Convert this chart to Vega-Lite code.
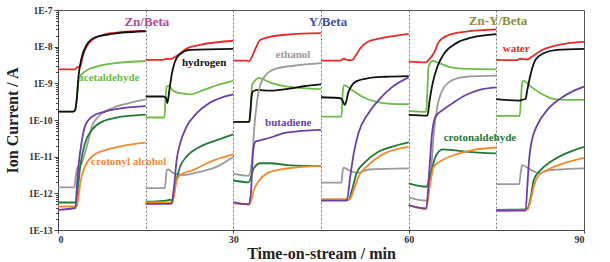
{
"$schema": "https://vega.github.io/schema/vega-lite/v6.json",
"width": 526, "height": 220,
"autosize": {"type": "none"},
"padding": {"left": 58, "top": 10, "right": 26, "bottom": 32},
"background": "white",
"config": {"view": {"stroke": "#555", "strokeWidth": 1}, "font": "Liberation Serif"},
"datasets": {
"curves": [
{"s":"water","g":1,"t":0,"v":2.4e-9},{"s":"water","g":1,"t":2.9,"v":2.4e-9},{"s":"water","g":1,"t":3.3,"v":2.75e-9},{"s":"water","g":1,"t":3.8,"v":2.82e-9},{"s":"water","g":1,"t":4.1,"v":4.47e-9},{"s":"water","g":1,"t":4.6,"v":8.13e-9},{"s":"water","g":1,"t":5.8,"v":1.51e-8},{"s":"water","g":1,"t":8.1,"v":2.19e-8},{"s":"water","g":1,"t":10.9,"v":2.51e-8},{"s":"water","g":1,"t":15,"v":2.69e-8},
{"s":"acetaldehyde","g":1,"t":0,"v":1.7e-10},{"s":"acetaldehyde","g":1,"t":2.6,"v":1.7e-10},{"s":"acetaldehyde","g":1,"t":2.9,"v":1.82e-10},{"s":"acetaldehyde","g":1,"t":3.2,"v":3.55e-10},{"s":"acetaldehyde","g":1,"t":3.6,"v":1.38e-9},{"s":"acetaldehyde","g":1,"t":4.6,"v":2.09e-9},{"s":"acetaldehyde","g":1,"t":6.9,"v":2.95e-9},{"s":"acetaldehyde","g":1,"t":9.8,"v":3.55e-9},{"s":"acetaldehyde","g":1,"t":15,"v":4.07e-9},
{"s":"hydrogen","g":1,"t":0,"v":1.7e-10},{"s":"hydrogen","g":1,"t":2.6,"v":1.7e-10},{"s":"hydrogen","g":1,"t":2.9,"v":1.82e-10},{"s":"hydrogen","g":1,"t":3.2,"v":3.55e-10},{"s":"hydrogen","g":1,"t":3.5,"v":1.51e-9},{"s":"hydrogen","g":1,"t":4.1,"v":5.37e-9},{"s":"hydrogen","g":1,"t":4.9,"v":1.12e-8},{"s":"hydrogen","g":1,"t":6.3,"v":1.78e-8},{"s":"hydrogen","g":1,"t":8.6,"v":2.14e-8},{"s":"hydrogen","g":1,"t":11,"v":2.4e-8},{"s":"hydrogen","g":1,"t":15,"v":2.63e-8},
{"s":"ethanol","g":1,"t":0,"v":1.45e-12},{"s":"ethanol","g":1,"t":2.8,"v":1.45e-12},{"s":"ethanol","g":1,"t":3.0,"v":2.51e-12},{"s":"ethanol","g":1,"t":3.3,"v":5.01e-12},{"s":"ethanol","g":1,"t":3.8,"v":5.62e-12},{"s":"ethanol","g":1,"t":4.6,"v":1.23e-11},{"s":"ethanol","g":1,"t":5.2,"v":2.82e-11},{"s":"ethanol","g":1,"t":5.8,"v":6.61e-11},{"s":"ethanol","g":1,"t":6.9,"v":1.23e-10},{"s":"ethanol","g":1,"t":9.2,"v":2.09e-10},{"s":"ethanol","g":1,"t":12.1,"v":2.88e-10},{"s":"ethanol","g":1,"t":15,"v":3.63e-10},
{"s":"crotonaldehyde","g":1,"t":0,"v":5.62e-13},{"s":"crotonaldehyde","g":1,"t":3.0,"v":5.62e-13},{"s":"crotonaldehyde","g":1,"t":3.3,"v":1e-12},{"s":"crotonaldehyde","g":1,"t":3.8,"v":5.37e-12},{"s":"crotonaldehyde","g":1,"t":4.6,"v":2.29e-11},{"s":"crotonaldehyde","g":1,"t":5.8,"v":5.37e-11},{"s":"crotonaldehyde","g":1,"t":7.5,"v":8.91e-11},{"s":"crotonaldehyde","g":1,"t":10.9,"v":1.23e-10},{"s":"crotonaldehyde","g":1,"t":15,"v":1.41e-10},
{"s":"crotonyl alcohol","g":1,"t":0,"v":4.37e-13},{"s":"crotonyl alcohol","g":1,"t":3.2,"v":4.37e-13},{"s":"crotonyl alcohol","g":1,"t":3.5,"v":7.94e-13},{"s":"crotonyl alcohol","g":1,"t":3.8,"v":1.86e-12},{"s":"crotonyl alcohol","g":1,"t":4.6,"v":5.37e-12},{"s":"crotonyl alcohol","g":1,"t":5.8,"v":1e-11},{"s":"crotonyl alcohol","g":1,"t":8.1,"v":1.51e-11},{"s":"crotonyl alcohol","g":1,"t":10.9,"v":1.95e-11},{"s":"crotonyl alcohol","g":1,"t":15,"v":2.4e-11},
{"s":"butadiene","g":1,"t":0,"v":3.55e-13},{"s":"butadiene","g":1,"t":3.0,"v":3.98e-13},{"s":"butadiene","g":1,"t":3.2,"v":1.26e-12},{"s":"butadiene","g":1,"t":3.5,"v":5.37e-12},{"s":"butadiene","g":1,"t":4.1,"v":2.82e-11},{"s":"butadiene","g":1,"t":4.6,"v":6.61e-11},{"s":"butadiene","g":1,"t":5.8,"v":1.23e-10},{"s":"butadiene","g":1,"t":8.1,"v":1.7e-10},{"s":"butadiene","g":1,"t":10.9,"v":2.09e-10},{"s":"butadiene","g":1,"t":15,"v":2.4e-10},

{"s":"water","g":2,"t":15,"v":4.37e-9},{"s":"water","g":2,"t":18,"v":4.37e-9},{"s":"water","g":2,"t":18.6,"v":4.68e-9},{"s":"water","g":2,"t":19.2,"v":4.57e-9},{"s":"water","g":2,"t":20.3,"v":5.62e-9},{"s":"water","g":2,"t":22,"v":8.91e-9},{"s":"water","g":2,"t":24.3,"v":1.12e-8},{"s":"water","g":2,"t":27.2,"v":1.32e-8},{"s":"water","g":2,"t":30,"v":1.45e-8},
{"s":"acetaldehyde","g":2,"t":15,"v":1.17e-10},{"s":"acetaldehyde","g":2,"t":18.2,"v":1.17e-10},{"s":"acetaldehyde","g":2,"t":18.4,"v":3.98e-10},{"s":"acetaldehyde","g":2,"t":18.6,"v":8.13e-10},{"s":"acetaldehyde","g":2,"t":18.9,"v":8.51e-10},{"s":"acetaldehyde","g":2,"t":19.7,"v":6.31e-10},{"s":"acetaldehyde","g":2,"t":20.9,"v":5.37e-10},{"s":"acetaldehyde","g":2,"t":22.6,"v":5.01e-10},{"s":"acetaldehyde","g":2,"t":24.9,"v":6.61e-10},{"s":"acetaldehyde","g":2,"t":27.7,"v":9.33e-10},{"s":"acetaldehyde","g":2,"t":30,"v":1.17e-9},
{"s":"hydrogen","g":2,"t":15,"v":4.37e-10},{"s":"hydrogen","g":2,"t":18,"v":4.37e-10},{"s":"hydrogen","g":2,"t":18.5,"v":3.98e-10},{"s":"hydrogen","g":2,"t":18.7,"v":2.88e-10},{"s":"hydrogen","g":2,"t":19.06,"v":6.61e-10},{"s":"hydrogen","g":2,"t":19.5,"v":1.86e-9},{"s":"hydrogen","g":2,"t":20,"v":3.89e-9},{"s":"hydrogen","g":2,"t":20.9,"v":6.31e-9},{"s":"hydrogen","g":2,"t":22.6,"v":8.13e-9},{"s":"hydrogen","g":2,"t":30,"v":8.71e-9},
{"s":"ethanol","g":2,"t":15,"v":1.38e-12},{"s":"ethanol","g":2,"t":18.3,"v":1.38e-12},{"s":"ethanol","g":2,"t":18.6,"v":4.37e-12},{"s":"ethanol","g":2,"t":18.9,"v":4.47e-12},{"s":"ethanol","g":2,"t":19.7,"v":3.55e-12},{"s":"ethanol","g":2,"t":21.5,"v":3.16e-12},{"s":"ethanol","g":2,"t":24.3,"v":3.89e-12},{"s":"ethanol","g":2,"t":27.2,"v":5.37e-12},{"s":"ethanol","g":2,"t":30,"v":1e-11},
{"s":"crotonaldehyde","g":2,"t":15,"v":5.89e-13},{"s":"crotonaldehyde","g":2,"t":18.5,"v":6.31e-13},{"s":"crotonaldehyde","g":2,"t":19.2,"v":6.76e-13},{"s":"crotonaldehyde","g":2,"t":19.5,"v":6.31e-13},{"s":"crotonaldehyde","g":2,"t":20,"v":1.51e-12},{"s":"crotonaldehyde","g":2,"t":20.9,"v":5.37e-12},{"s":"crotonaldehyde","g":2,"t":22,"v":1e-11},{"s":"crotonaldehyde","g":2,"t":24.3,"v":1.86e-11},{"s":"crotonaldehyde","g":2,"t":27.2,"v":2.82e-11},{"s":"crotonaldehyde","g":2,"t":30,"v":4.07e-11},
{"s":"crotonyl alcohol","g":2,"t":15,"v":5.62e-13},{"s":"crotonyl alcohol","g":2,"t":19.6,"v":5.62e-13},{"s":"crotonyl alcohol","g":2,"t":20.3,"v":2.29e-12},{"s":"crotonyl alcohol","g":2,"t":20.9,"v":3.16e-12},{"s":"crotonyl alcohol","g":2,"t":23.2,"v":4.37e-12},{"s":"crotonyl alcohol","g":2,"t":26,"v":7.24e-12},{"s":"crotonyl alcohol","g":2,"t":30,"v":1.15e-11},
{"s":"butadiene","g":2,"t":15,"v":5.13e-13},{"s":"butadiene","g":2,"t":19.4,"v":5.13e-13},{"s":"butadiene","g":2,"t":19.86,"v":1.51e-12},{"s":"butadiene","g":2,"t":20.3,"v":8.13e-12},{"s":"butadiene","g":2,"t":20.9,"v":2.29e-11},{"s":"butadiene","g":2,"t":22,"v":6.61e-11},{"s":"butadiene","g":2,"t":23.7,"v":1.51e-10},{"s":"butadiene","g":2,"t":26,"v":2.95e-10},{"s":"butadiene","g":2,"t":30,"v":5.01e-10},

{"s":"water","g":3,"t":30,"v":4.17e-9},{"s":"water","g":3,"t":32.3,"v":4.17e-9},{"s":"water","g":3,"t":32.6,"v":3.98e-9},{"s":"water","g":3,"t":33.2,"v":5.37e-9},{"s":"water","g":3,"t":33.8,"v":8.91e-9},{"s":"water","g":3,"t":34.6,"v":1.51e-8},{"s":"water","g":3,"t":36.3,"v":1.86e-8},{"s":"water","g":3,"t":39.2,"v":2.14e-8},{"s":"water","g":3,"t":45,"v":2.34e-8},
{"s":"acetaldehyde","g":3,"t":30,"v":8.91e-11},{"s":"acetaldehyde","g":3,"t":32.8,"v":8.91e-11},{"s":"acetaldehyde","g":3,"t":33.0,"v":2.51e-10},{"s":"acetaldehyde","g":3,"t":33.2,"v":8.91e-10},{"s":"acetaldehyde","g":3,"t":33.6,"v":1.12e-9},{"s":"acetaldehyde","g":3,"t":34.3,"v":1.41e-9},{"s":"acetaldehyde","g":3,"t":36.3,"v":1.05e-9},{"s":"acetaldehyde","g":3,"t":39.2,"v":8.13e-10},{"s":"acetaldehyde","g":3,"t":42,"v":7.41e-10},{"s":"acetaldehyde","g":3,"t":45,"v":6.92e-10},
{"s":"hydrogen","g":3,"t":30,"v":8.91e-11},{"s":"hydrogen","g":3,"t":32.7,"v":8.91e-11},{"s":"hydrogen","g":3,"t":32.9,"v":1.58e-10},{"s":"hydrogen","g":3,"t":33.1,"v":3.98e-10},{"s":"hydrogen","g":3,"t":33.3,"v":5.89e-10},{"s":"hydrogen","g":3,"t":34.1,"v":6.61e-10},{"s":"hydrogen","g":3,"t":36.3,"v":6.31e-10},{"s":"hydrogen","g":3,"t":39.8,"v":7.24e-10},{"s":"hydrogen","g":3,"t":42,"v":8.32e-10},{"s":"hydrogen","g":3,"t":45,"v":9.33e-10},
{"s":"ethanol","g":3,"t":30,"v":3.39e-12},{"s":"ethanol","g":3,"t":32.6,"v":3.02e-12},{"s":"ethanol","g":3,"t":33.2,"v":8.13e-12},{"s":"ethanol","g":3,"t":33.6,"v":6.61e-11},{"s":"ethanol","g":3,"t":34.1,"v":3.55e-10},{"s":"ethanol","g":3,"t":34.6,"v":8.91e-10},{"s":"ethanol","g":3,"t":35.8,"v":1.86e-9},{"s":"ethanol","g":3,"t":37.5,"v":2.57e-9},{"s":"ethanol","g":3,"t":40.3,"v":3.02e-9},{"s":"ethanol","g":3,"t":45,"v":3.55e-9},
{"s":"crotonaldehyde","g":3,"t":30,"v":2.24e-12},{"s":"crotonaldehyde","g":3,"t":32.6,"v":2.0e-12},{"s":"crotonaldehyde","g":3,"t":33.5,"v":4.79e-12},{"s":"crotonaldehyde","g":3,"t":34.6,"v":6.61e-12},{"s":"crotonaldehyde","g":3,"t":36.3,"v":6.61e-12},{"s":"crotonaldehyde","g":3,"t":39.2,"v":5.89e-12},{"s":"crotonaldehyde","g":3,"t":42,"v":5.62e-12},{"s":"crotonaldehyde","g":3,"t":45,"v":5.62e-12},
{"s":"crotonyl alcohol","g":3,"t":30,"v":5.37e-13},{"s":"crotonyl alcohol","g":3,"t":32.8,"v":5.01e-13},{"s":"crotonyl alcohol","g":3,"t":33.5,"v":1.23e-12},{"s":"crotonyl alcohol","g":3,"t":34.3,"v":2.09e-12},{"s":"crotonyl alcohol","g":3,"t":35.8,"v":3.55e-12},{"s":"crotonyl alcohol","g":3,"t":38.1,"v":4.47e-12},{"s":"crotonyl alcohol","g":3,"t":40.9,"v":5.13e-12},{"s":"crotonyl alcohol","g":3,"t":45,"v":5.62e-12},
{"s":"butadiene","g":3,"t":30,"v":5.75e-13},{"s":"butadiene","g":3,"t":32.6,"v":5.01e-13},{"s":"butadiene","g":3,"t":33.0,"v":1e-12},{"s":"butadiene","g":3,"t":33.4,"v":1.51e-11},{"s":"butadiene","g":3,"t":33.8,"v":2.57e-11},{"s":"butadiene","g":3,"t":35.2,"v":2.95e-11},{"s":"butadiene","g":3,"t":36.9,"v":3.55e-11},{"s":"butadiene","g":3,"t":38.6,"v":4.37e-11},{"s":"butadiene","g":3,"t":40.9,"v":4.9e-11},{"s":"butadiene","g":3,"t":45,"v":5.37e-11},

{"s":"water","g":4,"t":45,"v":4.17e-9},{"s":"water","g":4,"t":48.3,"v":4.17e-9},{"s":"water","g":4,"t":48.9,"v":4.68e-9},{"s":"water","g":4,"t":49.7,"v":4.27e-9},{"s":"water","g":4,"t":50.3,"v":4.27e-9},{"s":"water","g":4,"t":50.9,"v":5.62e-9},{"s":"water","g":4,"t":51.7,"v":8.91e-9},{"s":"water","g":4,"t":53.1,"v":1.38e-8},{"s":"water","g":4,"t":56,"v":1.78e-8},{"s":"water","g":4,"t":60,"v":2.24e-8},
{"s":"acetaldehyde","g":4,"t":45,"v":1.23e-10},{"s":"acetaldehyde","g":4,"t":48.5,"v":1.23e-10},{"s":"acetaldehyde","g":4,"t":48.7,"v":5.01e-10},{"s":"acetaldehyde","g":4,"t":48.9,"v":8.91e-10},{"s":"acetaldehyde","g":4,"t":50.3,"v":6.61e-10},{"s":"acetaldehyde","g":4,"t":52,"v":4.37e-10},{"s":"acetaldehyde","g":4,"t":54.3,"v":3.16e-10},{"s":"acetaldehyde","g":4,"t":57.1,"v":2.75e-10},{"s":"acetaldehyde","g":4,"t":60,"v":2.69e-10},
{"s":"hydrogen","g":4,"t":45,"v":4.17e-10},{"s":"hydrogen","g":4,"t":48,"v":3.98e-10},{"s":"hydrogen","g":4,"t":48.5,"v":3.8e-10},{"s":"hydrogen","g":4,"t":49.1,"v":2.57e-10},{"s":"hydrogen","g":4,"t":49.7,"v":5.89e-10},{"s":"hydrogen","g":4,"t":50.3,"v":8.91e-10},{"s":"hydrogen","g":4,"t":51.1,"v":1.15e-9},{"s":"hydrogen","g":4,"t":53.1,"v":1.38e-9},{"s":"hydrogen","g":4,"t":56,"v":1.51e-9},{"s":"hydrogen","g":4,"t":60,"v":1.58e-9},
{"s":"ethanol","g":4,"t":45,"v":1.95e-12},{"s":"ethanol","g":4,"t":48.5,"v":1.95e-12},{"s":"ethanol","g":4,"t":48.7,"v":3.98e-12},{"s":"ethanol","g":4,"t":48.9,"v":5.01e-12},{"s":"ethanol","g":4,"t":49.7,"v":4.27e-12},{"s":"ethanol","g":4,"t":51.4,"v":3.63e-12},{"s":"ethanol","g":4,"t":53.1,"v":4.47e-12},{"s":"ethanol","g":4,"t":60,"v":4.79e-12},
{"s":"crotonaldehyde","g":4,"t":45,"v":6.61e-13},{"s":"crotonaldehyde","g":4,"t":49.7,"v":6.61e-13},{"s":"crotonaldehyde","g":4,"t":50.3,"v":1.23e-12},{"s":"crotonaldehyde","g":4,"t":51.1,"v":3.55e-12},{"s":"crotonaldehyde","g":4,"t":52.6,"v":7.24e-12},{"s":"crotonaldehyde","g":4,"t":54.9,"v":1.38e-11},{"s":"crotonaldehyde","g":4,"t":57.1,"v":1.86e-11},{"s":"crotonaldehyde","g":4,"t":60,"v":2.45e-11},
{"s":"crotonyl alcohol","g":4,"t":45,"v":6.92e-13},{"s":"crotonyl alcohol","g":4,"t":49.9,"v":6.92e-13},{"s":"crotonyl alcohol","g":4,"t":50.6,"v":1.23e-12},{"s":"crotonyl alcohol","g":4,"t":51.4,"v":2.82e-12},{"s":"crotonyl alcohol","g":4,"t":53.1,"v":5.89e-12},{"s":"crotonyl alcohol","g":4,"t":55.4,"v":1.12e-11},{"s":"crotonyl alcohol","g":4,"t":60,"v":1.86e-11},
{"s":"butadiene","g":4,"t":45,"v":6.31e-13},{"s":"butadiene","g":4,"t":49.4,"v":6.31e-13},{"s":"butadiene","g":4,"t":50,"v":2.82e-12},{"s":"butadiene","g":4,"t":50.6,"v":1.23e-11},{"s":"butadiene","g":4,"t":51.4,"v":4.37e-11},{"s":"butadiene","g":4,"t":53.1,"v":1.51e-10},{"s":"butadiene","g":4,"t":54.9,"v":3.55e-10},{"s":"butadiene","g":4,"t":57.1,"v":7.76e-10},{"s":"butadiene","g":4,"t":60,"v":1.45e-9},

{"s":"water","g":5,"t":60,"v":3.89e-9},{"s":"water","g":5,"t":62.9,"v":3.72e-9},{"s":"water","g":5,"t":63.5,"v":4.47e-9},{"s":"water","g":5,"t":64.3,"v":6.61e-9},{"s":"water","g":5,"t":65.2,"v":1.38e-8},{"s":"water","g":5,"t":66.9,"v":2.09e-8},{"s":"water","g":5,"t":69.8,"v":2.57e-8},{"s":"water","g":5,"t":75,"v":2.95e-8},
{"s":"acetaldehyde","g":5,"t":60,"v":1.78e-10},{"s":"acetaldehyde","g":5,"t":63,"v":1.66e-10},{"s":"acetaldehyde","g":5,"t":63.2,"v":6.31e-10},{"s":"acetaldehyde","g":5,"t":63.4,"v":2.82e-9},{"s":"acetaldehyde","g":5,"t":64.1,"v":4.07e-9},{"s":"acetaldehyde","g":5,"t":65.2,"v":3.55e-9},{"s":"acetaldehyde","g":5,"t":66.9,"v":2.82e-9},{"s":"acetaldehyde","g":5,"t":69.2,"v":2.51e-9},{"s":"acetaldehyde","g":5,"t":75,"v":2.4e-9},
{"s":"hydrogen","g":5,"t":60,"v":1.38e-10},{"s":"hydrogen","g":5,"t":63.2,"v":1.32e-10},{"s":"hydrogen","g":5,"t":63.6,"v":3.55e-10},{"s":"hydrogen","g":5,"t":64.1,"v":1e-9},{"s":"hydrogen","g":5,"t":64.9,"v":2.82e-9},{"s":"hydrogen","g":5,"t":66.1,"v":6.61e-9},{"s":"hydrogen","g":5,"t":68.1,"v":1.23e-8},{"s":"hydrogen","g":5,"t":70.9,"v":1.78e-8},{"s":"hydrogen","g":5,"t":75,"v":2.19e-8},
{"s":"ethanol","g":5,"t":60,"v":7.76e-13},{"s":"ethanol","g":5,"t":63,"v":6.31e-13},{"s":"ethanol","g":5,"t":63.8,"v":3.55e-12},{"s":"ethanol","g":5,"t":64.3,"v":4.37e-11},{"s":"ethanol","g":5,"t":64.9,"v":2.29e-10},{"s":"ethanol","g":5,"t":65.8,"v":6.61e-10},{"s":"ethanol","g":5,"t":67.5,"v":1.23e-9},{"s":"ethanol","g":5,"t":69.8,"v":1.51e-9},{"s":"ethanol","g":5,"t":75,"v":1.62e-9},
{"s":"crotonaldehyde","g":5,"t":60,"v":1.86e-12},{"s":"crotonaldehyde","g":5,"t":63,"v":1.51e-12},{"s":"crotonaldehyde","g":5,"t":63.8,"v":3.55e-12},{"s":"crotonaldehyde","g":5,"t":64.6,"v":1e-11},{"s":"crotonaldehyde","g":5,"t":65.8,"v":1.58e-11},{"s":"crotonaldehyde","g":5,"t":67.5,"v":1.51e-11},{"s":"crotonaldehyde","g":5,"t":69.8,"v":1.38e-11},{"s":"crotonaldehyde","g":5,"t":75,"v":1.23e-11},
{"s":"crotonyl alcohol","g":5,"t":60,"v":4.79e-13},{"s":"crotonyl alcohol","g":5,"t":63,"v":3.72e-13},{"s":"crotonyl alcohol","g":5,"t":63.6,"v":1.51e-12},{"s":"crotonyl alcohol","g":5,"t":64.3,"v":5.37e-12},{"s":"crotonyl alcohol","g":5,"t":65.8,"v":8.13e-12},{"s":"crotonyl alcohol","g":5,"t":68.1,"v":1.15e-11},{"s":"crotonyl alcohol","g":5,"t":70.9,"v":1.51e-11},{"s":"crotonyl alcohol","g":5,"t":75,"v":1.78e-11},
{"s":"butadiene","g":5,"t":60,"v":4.79e-13},{"s":"butadiene","g":5,"t":63,"v":3.89e-13},{"s":"butadiene","g":5,"t":63.5,"v":3.55e-12},{"s":"butadiene","g":5,"t":64,"v":4.37e-11},{"s":"butadiene","g":5,"t":64.6,"v":1.23e-10},{"s":"butadiene","g":5,"t":65.8,"v":1.86e-10},{"s":"butadiene","g":5,"t":67.5,"v":2.88e-10},{"s":"butadiene","g":5,"t":69.8,"v":4.79e-10},{"s":"butadiene","g":5,"t":72.1,"v":6.61e-10},{"s":"butadiene","g":5,"t":75,"v":7.76e-10},

{"s":"water","g":6,"t":75,"v":4.37e-9},{"s":"water","g":6,"t":78.5,"v":4.27e-9},{"s":"water","g":6,"t":79.1,"v":4.68e-9},{"s":"water","g":6,"t":80.3,"v":4.47e-9},{"s":"water","g":6,"t":81.1,"v":5.37e-9},{"s":"water","g":6,"t":82.6,"v":7.76e-9},{"s":"water","g":6,"t":84.9,"v":1.05e-8},{"s":"water","g":6,"t":87.1,"v":1.23e-8},{"s":"water","g":6,"t":90,"v":1.35e-8},
{"s":"acetaldehyde","g":6,"t":75,"v":1.29e-10},{"s":"acetaldehyde","g":6,"t":79,"v":1.29e-10},{"s":"acetaldehyde","g":6,"t":79.3,"v":6.31e-10},{"s":"acetaldehyde","g":6,"t":79.5,"v":1.12e-9},{"s":"acetaldehyde","g":6,"t":79.7,"v":1.17e-9},{"s":"acetaldehyde","g":6,"t":80.9,"v":8.13e-10},{"s":"acetaldehyde","g":6,"t":82.6,"v":5.37e-10},{"s":"acetaldehyde","g":6,"t":84.9,"v":3.72e-10},{"s":"acetaldehyde","g":6,"t":87.1,"v":3.55e-10},{"s":"acetaldehyde","g":6,"t":90,"v":3.55e-10},
{"s":"hydrogen","g":6,"t":75,"v":3.72e-10},{"s":"hydrogen","g":6,"t":78.9,"v":3.39e-10},{"s":"hydrogen","g":6,"t":79.4,"v":3.55e-10},{"s":"hydrogen","g":6,"t":80,"v":3.8e-10},{"s":"hydrogen","g":6,"t":80.3,"v":6.61e-10},{"s":"hydrogen","g":6,"t":80.9,"v":1.86e-9},{"s":"hydrogen","g":6,"t":81.7,"v":4.37e-9},{"s":"hydrogen","g":6,"t":83.1,"v":6.61e-9},{"s":"hydrogen","g":6,"t":85.4,"v":8.13e-9},{"s":"hydrogen","g":6,"t":90,"v":8.71e-9},
{"s":"ethanol","g":6,"t":75,"v":1.78e-12},{"s":"ethanol","g":6,"t":78.9,"v":1.78e-12},{"s":"ethanol","g":6,"t":79.2,"v":3.98e-12},{"s":"ethanol","g":6,"t":79.4,"v":5.89e-12},{"s":"ethanol","g":6,"t":80.9,"v":4.37e-12},{"s":"ethanol","g":6,"t":82.3,"v":3.55e-12},{"s":"ethanol","g":6,"t":83.7,"v":4.17e-12},{"s":"ethanol","g":6,"t":86,"v":4.47e-12},{"s":"ethanol","g":6,"t":90,"v":4.79e-12},
{"s":"crotonaldehyde","g":6,"t":75,"v":3.55e-13},{"s":"crotonaldehyde","g":6,"t":79.5,"v":3.63e-13},{"s":"crotonaldehyde","g":6,"t":80.3,"v":3.8e-13},{"s":"crotonaldehyde","g":6,"t":80.9,"v":8.13e-13},{"s":"crotonaldehyde","g":6,"t":81.4,"v":2.29e-12},{"s":"crotonaldehyde","g":6,"t":82.6,"v":4.37e-12},{"s":"crotonaldehyde","g":6,"t":84.3,"v":7.24e-12},{"s":"crotonaldehyde","g":6,"t":86.6,"v":1.17e-11},{"s":"crotonaldehyde","g":6,"t":90,"v":1.86e-11},
{"s":"crotonyl alcohol","g":6,"t":75,"v":3.39e-13},{"s":"crotonyl alcohol","g":6,"t":80.3,"v":3.55e-13},{"s":"crotonyl alcohol","g":6,"t":80.9,"v":6.61e-13},{"s":"crotonyl alcohol","g":6,"t":81.4,"v":1.51e-12},{"s":"crotonyl alcohol","g":6,"t":82.3,"v":3.16e-12},{"s":"crotonyl alcohol","g":6,"t":84.3,"v":4.79e-12},{"s":"crotonyl alcohol","g":6,"t":87.1,"v":7.08e-12},{"s":"crotonyl alcohol","g":6,"t":90,"v":9.33e-12},
{"s":"butadiene","g":6,"t":75,"v":3.39e-13},{"s":"butadiene","g":6,"t":80,"v":3.39e-13},{"s":"butadiene","g":6,"t":80.3,"v":1.51e-12},{"s":"butadiene","g":6,"t":80.6,"v":8.13e-12},{"s":"butadiene","g":6,"t":81.1,"v":2.82e-11},{"s":"butadiene","g":6,"t":82,"v":7.24e-11},{"s":"butadiene","g":6,"t":83.7,"v":1.86e-10},{"s":"butadiene","g":6,"t":86,"v":3.89e-10},{"s":"butadiene","g":6,"t":88.3,"v":6.31e-10},{"s":"butadiene","g":6,"t":90,"v":8.13e-10}
],
"labels": [
{"s":"acetaldehyde","t":8.7,"v":1.41e-9},
{"s":"crotonyl alcohol","t":12.1,"v":7.08e-12},
{"s":"hydrogen","t":25.0,"v":3.55e-9},
{"s":"ethanol","t":40.2,"v":5.89e-9},
{"s":"butadiene","t":39.4,"v":8.13e-11},
{"s":"crotonaldehyde","t":72.2,"v":3.16e-11},
{"s":"water","t":78.4,"v":8.51e-9}
],
"titles": [
{"lab":"Zn/Beta","t":15.2,"v":4.79e-8},
{"lab":"Y/Beta","t":46.2,"v":4.79e-8},
{"lab":"Zn-Y/Beta","t":75.3,"v":5.13e-8}
]
},
"layer": [
{
"data": {"name": "curves"},
"mark": {"type": "line", "interpolate": "monotone", "strokeWidth": 1.8},
"encoding": {
"x": {"field": "t", "type": "quantitative", "scale": {"domain": [0, 90], "nice": false},
 "axis": {"title": "Time-on-stream / min", "titleFont": "Liberation Serif", "titleFontSize": 16, "titleFontWeight": "bold", "titleColor": "#222", "titlePadding": 1,
  "values": [0, 15, 30, 45, 60, 75, 90], "labelExpr": "datum.value % 30 === 0 ? datum.label : ''",
  "labelFont": "Liberation Serif", "labelFontWeight": "bold", "labelFontSize": 10, "labelColor": "#333", "labelPadding": 1,
  "grid": true, "gridDash": [2, 2], "gridColor": "#777",
  "gridOpacity": {"condition": {"test": "datum.value === 0 || datum.value === 90", "value": 0}, "value": 1},
  "tickSize": {"condition": {"test": "datum.value % 30 === 0", "value": 3}, "value": 0},
  "tickColor": "#444", "domainColor": "#444"}},
"y": {"field": "v", "type": "quantitative", "scale": {"type": "log", "domain": [1e-13, 1e-7], "nice": false},
 "axis": {"title": "Ion Current / A", "titleFont": "Liberation Serif", "titleFontSize": 16, "titleFontWeight": "bold", "titleColor": "#222", "titlePadding": 8,
  "values": [1e-13,2e-13,3e-13,4e-13,5e-13,6e-13,7e-13,8e-13,9e-13,1e-12,2e-12,3e-12,4e-12,5e-12,6e-12,7e-12,8e-12,9e-12,1e-11,2e-11,3e-11,4e-11,5e-11,6e-11,7e-11,8e-11,9e-11,1e-10,2e-10,3e-10,4e-10,5e-10,6e-10,7e-10,8e-10,9e-10,1e-9,2e-9,3e-9,4e-9,5e-9,6e-9,7e-9,8e-9,9e-9,1e-8,2e-8,3e-8,4e-8,5e-8,6e-8,7e-8,8e-8,9e-8,1e-7],
  "labelExpr": "abs(log(datum.value)/LN10 - round(log(datum.value)/LN10)) < 0.01 ? '1E' + round(log(datum.value)/LN10) : ''",
  "labelOverlap": false, "labelFont": "Liberation Serif", "labelFontWeight": "bold", "labelFontSize": 9.5, "labelColor": "#333", "labelPadding": 2,
  "tickSize": {"condition": {"test": "abs(log(datum.value)/LN10 - round(log(datum.value)/LN10)) < 0.01", "value": 4}, "value": 2.5},
  "tickColor": "#444", "domainColor": "#444", "grid": false}},
"color": {"field": "s", "type": "nominal", "legend": null,
 "scale": {"domain": ["water","hydrogen","acetaldehyde","ethanol","butadiene","crotonaldehyde","crotonyl alcohol"],
  "range": ["#e62a2a","#111111","#6cbd45","#9a9a9a","#6a40a8","#237a37","#f28a2e"]}},
"detail": {"field": "g", "type": "nominal"}
}
},
{
"data": {"name": "labels"},
"mark": {"type": "text", "font": "Liberation Serif", "fontWeight": "bold", "fontSize": 11, "align": "center", "baseline": "middle"},
"encoding": {
"x": {"field": "t", "type": "quantitative"},
"y": {"field": "v", "type": "quantitative"},
"text": {"field": "s"},
"color": {"field": "s", "type": "nominal", "legend": null,
 "scale": {"domain": ["water","hydrogen","acetaldehyde","ethanol","butadiene","crotonaldehyde","crotonyl alcohol"],
  "range": ["#e62a2a","#111111","#6cbd45","#9a9a9a","#6a40a8","#237a37","#f28a2e"]}}
}
},
{
"data": {"name": "titles"},
"mark": {"type": "text", "font": "Liberation Serif", "fontWeight": "bold", "fontSize": 13, "align": "center", "baseline": "middle"},
"encoding": {
"x": {"field": "t", "type": "quantitative"},
"y": {"field": "v", "type": "quantitative"},
"text": {"field": "lab"},
"color": {"field": "lab", "type": "nominal", "legend": null,
 "scale": {"domain": ["Zn/Beta","Y/Beta","Zn-Y/Beta"], "range": ["#b3479c","#3d4fa3","#8e8b3d"]}}
}
}
],
"resolve": {"scale": {"color": "independent"}}
}
